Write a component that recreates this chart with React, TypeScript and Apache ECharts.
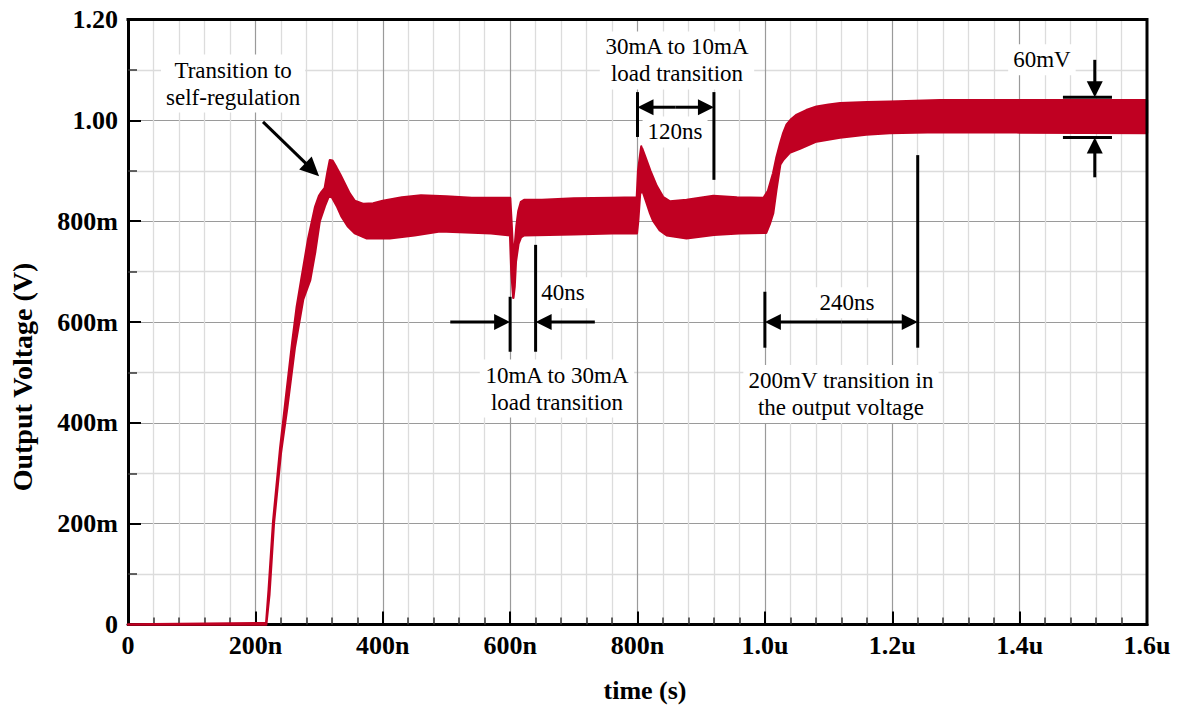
import React, { useEffect, useRef } from 'react';
import * as echarts from 'echarts';

// ---- axis tick labels ----
const xTickLabels = ['0', '200n', '400n', '600n', '800n', '1.0u', '1.2u', '1.4u', '1.6u'];
const yTickLabels = ['0', '200m', '400m', '600m', '800m', '1.00', '1.20'];

// ---- waveform envelope (time in ns, voltage in V) ----
const upperT = [0, 217, 221, 228, 239, 248, 258, 265, 272, 283, 294, 300, 304, 309, 313, 317, 321, 327, 333, 340, 348, 356, 370, 385, 400, 430, 460, 500, 540, 570, 600, 602, 604, 606, 608, 610, 613, 617, 622, 650, 700, 760, 799, 801, 806, 812, 820, 830, 840, 851, 877, 919, 956, 998, 1005, 1013, 1018, 1024, 1029, 1034, 1042, 1050, 1065, 1081, 1100, 1118, 1160, 1196, 1275, 1400, 1600];
const upperV = [0, 0.003, 0.07, 0.205, 0.35, 0.45, 0.56, 0.63, 0.683, 0.765, 0.829, 0.85, 0.858, 0.866, 0.895, 0.921, 0.92, 0.907, 0.893, 0.875, 0.855, 0.84, 0.834, 0.835, 0.84, 0.847, 0.851, 0.849, 0.846, 0.846, 0.846, 0.8, 0.75, 0.735, 0.76, 0.79, 0.82, 0.838, 0.842, 0.842, 0.845, 0.846, 0.847, 0.9, 0.948, 0.928, 0.9, 0.87, 0.848, 0.839, 0.842, 0.85, 0.847, 0.846, 0.86, 0.895, 0.925, 0.954, 0.975, 0.991, 1.003, 1.011, 1.02, 1.027, 1.031, 1.034, 1.036, 1.037, 1.04, 1.04, 1.04];
const lowerT = [0, 217, 222, 229, 240, 250, 262, 275, 286, 294, 301, 309, 315, 320, 328, 335, 345, 356, 375, 411, 450, 490, 530, 570, 600, 602, 605, 607, 609, 613, 617, 622, 700, 760, 799, 801, 804, 808, 814, 820, 825, 835, 846, 877, 920, 960, 1002, 1008, 1013, 1018, 1024, 1029, 1039, 1055, 1081, 1118, 1159, 1196, 1275, 1400, 1600];
const lowerV = [0, 0, 0.06, 0.2, 0.34, 0.43, 0.55, 0.645, 0.683, 0.74, 0.8, 0.83, 0.849, 0.848, 0.83, 0.81, 0.79, 0.776, 0.766, 0.766, 0.772, 0.78, 0.778, 0.776, 0.772, 0.7, 0.648, 0.67, 0.72, 0.755, 0.768, 0.772, 0.774, 0.776, 0.776, 0.8, 0.855, 0.86, 0.838, 0.815, 0.8, 0.782, 0.772, 0.766, 0.773, 0.776, 0.777, 0.796, 0.816, 0.862, 0.912, 0.922, 0.936, 0.944, 0.958, 0.966, 0.972, 0.975, 0.977, 0.976, 0.975];

// ---- annotations (data coordinates: ns, V) ----
const annoTexts = [
  { text: 'Transition to\nself-regulation', at: [165, 1.073] },
  { text: '30mA to 10mA\nload transition', at: [862, 1.1187] },
  { text: '120ns', at: [859, 0.977] },
  { text: '40ns', at: [683, 0.658] },
  { text: '10mA to 30mA\nload transition', at: [673.6, 0.468] },
  { text: '240ns', at: [1129, 0.638] },
  { text: '200mV transition in\nthe output voltage', at: [1119.5, 0.457] },
  { text: '60mV', at: [1435, 1.12] },
];
const annoBars = [
  [[600, 0.65], [600, 0.541]],
  [[640, 0.753], [640, 0.541]],
  [[800, 1.056], [800, 0.967]],
  [[920, 1.056], [920, 0.882]],
  [[1000, 0.66], [1000, 0.549]],
  [[1240, 0.931], [1240, 0.549]],
  [[1468, 1.046], [1545, 1.046]],
  [[1468, 0.966], [1545, 0.966]],
];
const annoArrows = [
  [[212, 0.997], [300, 0.889]],
  [[506, 0.6], [600, 0.6]],
  [[733, 0.6], [640, 0.6]],
  [[860, 1.026], [800, 1.026]],
  [[860, 1.026], [920, 1.026]],
  [[1120, 0.6], [1000, 0.6]],
  [[1120, 0.6], [1240, 0.6]],
  [[1518, 1.12], [1518, 1.046]],
  [[1518, 0.887], [1518, 0.966]],
];

const RED = '#C00022';
const FONT = '"Liberation Serif", "Times New Roman", serif';

export default function App() {
  const ref = useRef<HTMLDivElement>(null);

  useEffect(() => {
    const chart = echarts.init(ref.current!, null, { renderer: 'svg' });

    const axisLabelStyle = {
      fontFamily: FONT,
      fontWeight: 'bold' as const,
      fontSize: 26,
      color: '#000',
    };

    const option: any = {
      animation: false,
      backgroundColor: '#fff',
      grid: { left: 128, right: 33, top: 19.5, bottom: 81.5, containLabel: false },
      xAxis: {
        type: 'value',
        min: 0,
        max: 1600,
        interval: 200,
        axisLine: { show: true, onZero: false, lineStyle: { color: '#000', width: 3 } },
        axisTick: { show: true, inside: true, length: 13, lineStyle: { color: '#000', width: 2 } },
        minorTick: { show: true, splitNumber: 5, length: 7, lineStyle: { color: '#333', width: 1.5 } },
        splitLine: { show: true, showMinLine: false, showMaxLine: false, lineStyle: { color: '#9a9a9a', width: 1.2 } },
        minorSplitLine: { show: true, lineStyle: { color: '#dcdcdc', width: 1.3 } },
        axisLabel: {
          ...axisLabelStyle,
          margin: 8,
          formatter: (v: number) => xTickLabels[Math.round(v / 200)] ?? '',
        },
      },
      yAxis: {
        type: 'value',
        min: 0,
        max: 1.2,
        interval: 0.2,
        axisLine: { show: true, onZero: false, lineStyle: { color: '#000', width: 3 } },
        axisTick: { show: true, inside: true, length: 13, lineStyle: { color: '#000', width: 2 } },
        minorTick: { show: true, splitNumber: 2, length: 9, lineStyle: { color: '#333', width: 1.5 } },
        splitLine: { show: true, showMinLine: false, showMaxLine: false, lineStyle: { color: '#9a9a9a', width: 1.2 } },
        minorSplitLine: { show: true, lineStyle: { color: '#dcdcdc', width: 1.3 } },
        axisLabel: {
          ...axisLabelStyle,
          margin: 10,
          formatter: (v: number) => yTickLabels[Math.round(v / 0.2)] ?? '',
        },
      },
      series: [
        {
          type: 'custom',
          silent: true,
          z: 3,
          clip: false,
          data: [[0, 0]],
          renderItem: (params: any, api: any) => {
            if (params.dataIndex !== 0) return null;
            const pts: number[][] = [];
            for (let i = 0; i < upperT.length; i++) pts.push(api.coord([upperT[i], upperV[i]]));
            for (let i = lowerT.length - 1; i >= 0; i--) pts.push(api.coord([lowerT[i], lowerV[i]]));
            return {
              type: 'polygon',
              shape: { points: pts },
              style: { fill: RED, stroke: RED, lineWidth: 2.4, lineJoin: 'round' },
            };
          },
        },
      ],
    };

    chart.setOption(option);

    const P = (p: number[]) => chart.convertToPixel({ gridIndex: 0 }, p) as number[];
    const elements: any[] = [];

    // top and right frame
    const tl = P([0, 1.2]);
    const br = P([1600, 0]);
    elements.push({
      type: 'polyline',
      z: 50,
      silent: true,
      shape: { points: [[tl[0] - 1.5, tl[1]], [br[0], tl[1]], [br[0], br[1] + 1.5]] },
      style: { stroke: '#000', lineWidth: 3, fill: null },
    });

    // annotation texts
    annoTexts.forEach((a) => {
      const p = P(a.at);
      elements.push({
        type: 'text',
        z: 100,
        silent: true,
        x: p[0],
        y: p[1],
        style: {
          text: a.text,
          fontFamily: FONT,
          fontSize: 23,
          lineHeight: 27,
          fill: '#000',
          align: 'center',
          verticalAlign: 'middle',
          backgroundColor: '#fff',
          padding: [2, 5],
        },
      });
    });

    // bars
    annoBars.forEach((b) => {
      const p1 = P(b[0]);
      const p2 = P(b[1]);
      elements.push({
        type: 'line',
        z: 101,
        silent: true,
        shape: { x1: p1[0], y1: p1[1], x2: p2[0], y2: p2[1] },
        style: { stroke: '#000', lineWidth: 3 },
      });
    });

    // arrows
    annoArrows.forEach((a, idx) => {
      const s = P(a[0]);
      const e = P(a[1]);
      const dx = e[0] - s[0];
      const dy = e[1] - s[1];
      const len = Math.sqrt(dx * dx + dy * dy);
      const ux = dx / len;
      const uy = dy / len;
      const hl = idx === 0 ? 19 : 16;
      const hw = idx === 0 ? 9 : 8;
      const bx = e[0] - ux * hl;
      const by = e[1] - uy * hl;
      elements.push({
        type: 'line',
        z: 101,
        silent: true,
        shape: { x1: s[0], y1: s[1], x2: bx + ux * 2, y2: by + uy * 2 },
        style: { stroke: '#000', lineWidth: 3 },
      });
      elements.push({
        type: 'polygon',
        z: 101,
        silent: true,
        shape: {
          points: [
            [e[0], e[1]],
            [bx - uy * hw, by + ux * hw],
            [bx + uy * hw, by - ux * hw],
          ],
        },
        style: { fill: '#000' },
      });
    });

    // axis names
    elements.push({
      type: 'text',
      z: 100,
      silent: true,
      x: 645,
      y: 690,
      style: {
        text: 'time (s)',
        fontFamily: FONT,
        fontWeight: 'bold',
        fontSize: 26,
        fill: '#000',
        align: 'center',
        verticalAlign: 'middle',
      },
    });
    elements.push({
      type: 'text',
      z: 100,
      silent: true,
      x: 22,
      y: 377,
      rotation: Math.PI / 2,
      style: {
        text: 'Output Voltage (V)',
        fontFamily: FONT,
        fontWeight: 'bold',
        fontSize: 28,
        fill: '#000',
        align: 'center',
        verticalAlign: 'middle',
      },
    });

    chart.setOption({ graphic: { elements } });

    return () => chart.dispose();
  }, []);

  return (
    <div
      ref={ref}
      style={{ position: 'absolute', left: 0, top: 0, width: 1180, height: 706, background: '#fff' }}
    />
  );
}
